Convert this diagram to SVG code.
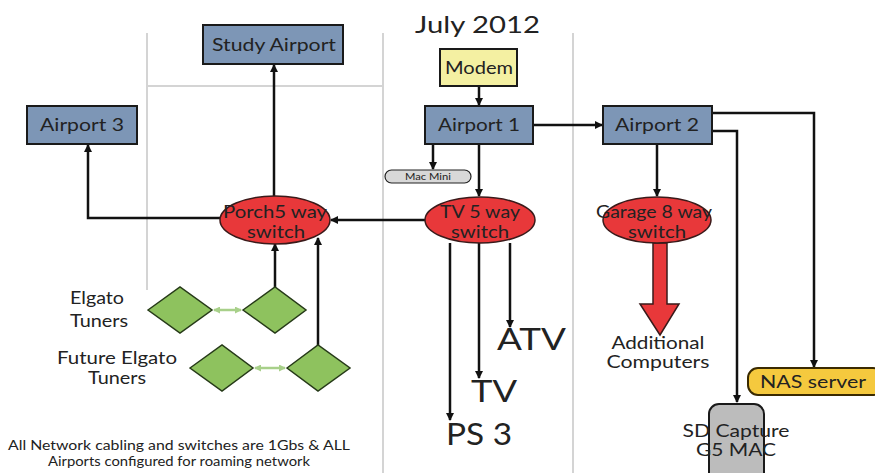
<svg xmlns="http://www.w3.org/2000/svg" width="875" height="473" viewBox="0 0 875 473">
<style>
text{font-family:Lato,"Open Sans","DejaVu Sans",sans-serif;fill:#222}
.ap{fill:#7d96b6;stroke:#1a1a1a;stroke-width:2}
.sw{fill:#e8383a;stroke:#3a1a1a;stroke-width:1.5}
.dm{fill:#8ec25e;stroke:#263a18;stroke-width:1.5}
.c{fill:none;stroke:#111;stroke-width:2.5}
.g{fill:none;stroke:#d4d4d4;stroke-width:2}
.t{font-size:17px;text-anchor:middle}
</style>
<defs>
<marker id="ah" markerWidth="8" markerHeight="8" refX="7" refY="4" orient="auto" markerUnits="userSpaceOnUse"><path d="M0,0 L8,4 L0,8 Z" fill="#111"/></marker>
<marker id="ag" markerWidth="7" markerHeight="7" refX="6" refY="3.5" orient="auto-start-reverse" markerUnits="userSpaceOnUse"><path d="M0,0 L7,3.5 L0,7 Z" fill="#a8d08a"/></marker>
</defs>
<rect width="875" height="473" fill="#fff"/>
<g id="grid">
<line class="g" x1="147" y1="33" x2="147" y2="290"/>
<line class="g" x1="383" y1="33" x2="383" y2="473"/>
<line class="g" x1="573" y1="33" x2="573" y2="473"/>
<line class="g" x1="147" y1="86" x2="383" y2="86"/>
</g>
<text x="415" y="33" font-size="24" textLength="125" lengthAdjust="spacingAndGlyphs">July 2012</text>
<g id="connectors">
<line class="c" x1="479" y1="86" x2="479" y2="105" marker-end="url(#ah)"/>
<line class="c" x1="533" y1="125" x2="602" y2="125" marker-end="url(#ah)"/>
<line class="c" x1="433" y1="144" x2="433" y2="169" marker-end="url(#ah)"/>
<line class="c" x1="479" y1="144" x2="479" y2="196" marker-end="url(#ah)"/>
<line class="c" x1="425" y1="220" x2="331" y2="220" marker-end="url(#ah)"/>
<polyline class="c" points="220,218 88,218 88,145" marker-end="url(#ah)"/>
<line class="c" x1="274" y1="196" x2="274" y2="65" marker-end="url(#ah)"/>
<line class="c" x1="275" y1="287" x2="275" y2="244" marker-end="url(#ah)"/>
<line class="c" x1="318" y1="345" x2="318" y2="238" marker-end="url(#ah)"/>
<line class="c" x1="450" y1="243" x2="450" y2="420" marker-end="url(#ah)"/>
<line class="c" x1="479" y1="243" x2="479" y2="378" marker-end="url(#ah)"/>
<line class="c" x1="510" y1="243" x2="510" y2="327" marker-end="url(#ah)"/>
<line class="c" x1="657" y1="144" x2="657" y2="196" marker-end="url(#ah)"/>
<polyline class="c" points="712,113 814,113 814,367" marker-end="url(#ah)"/>
<polyline class="c" points="712,131 737,131 737,402" marker-end="url(#ah)"/>
<line x1="214" y1="310" x2="241" y2="310" stroke="#a8d08a" stroke-width="2.5" marker-start="url(#ag)" marker-end="url(#ag)"/>
<line x1="255" y1="368" x2="285" y2="368" stroke="#a8d08a" stroke-width="2.5" marker-start="url(#ag)" marker-end="url(#ag)"/>
<path d="M653,243 L667,243 L667,304 L679,304 L660,335 L640,304 L653,304 Z" fill="#e8383a" stroke="#3a1a1a" stroke-width="1.5"/>
</g>
<g id="modem"><rect x="440" y="49" width="77" height="37" fill="#f4f0a2" stroke="#1a1a1a" stroke-width="2"/><text class="t" x="479" y="74" textLength="68" lengthAdjust="spacingAndGlyphs">Modem</text></g>
<g id="airport1"><rect class="ap" x="425" y="106" width="108" height="38"/><text class="t" x="479" y="131" textLength="82" lengthAdjust="spacingAndGlyphs">Airport 1</text></g>
<g id="airport2"><rect class="ap" x="603" y="106" width="109" height="38"/><text class="t" x="657" y="131" textLength="84" lengthAdjust="spacingAndGlyphs">Airport 2</text></g>
<g id="airport3"><rect class="ap" x="27" y="106" width="110" height="38"/><text class="t" x="82" y="131" textLength="84" lengthAdjust="spacingAndGlyphs">Airport 3</text></g>
<g id="study-airport"><rect class="ap" x="203" y="25" width="140" height="39"/><text class="t" x="274" y="51" textLength="124" lengthAdjust="spacingAndGlyphs">Study Airport</text></g>
<g id="mac-mini"><rect x="385" y="170" width="86" height="13" rx="6.5" fill="#d8d8d8" stroke="#222" stroke-width="1.2"/><text x="428" y="180" font-size="9" text-anchor="middle" textLength="46" lengthAdjust="spacingAndGlyphs">Mac Mini</text></g>
<g id="tv-switch"><ellipse class="sw" cx="480" cy="220" rx="55" ry="23"/><text class="t" x="480" y="218" textLength="80" lengthAdjust="spacingAndGlyphs">TV 5 way</text><text class="t" x="480" y="238" textLength="58" lengthAdjust="spacingAndGlyphs">switch</text></g>
<g id="porch-switch"><ellipse class="sw" cx="275" cy="220" rx="55" ry="24"/><text class="t" x="275" y="218" textLength="104" lengthAdjust="spacingAndGlyphs">Porch5 way</text><text class="t" x="276" y="238" textLength="58" lengthAdjust="spacingAndGlyphs">switch</text></g>
<g id="garage-switch"><ellipse class="sw" cx="657" cy="220" rx="54" ry="23"/><text class="t" x="654" y="218" textLength="116" lengthAdjust="spacingAndGlyphs">Garage 8 way</text><text class="t" x="657" y="238" textLength="58" lengthAdjust="spacingAndGlyphs">switch</text></g>
<g id="elgato1"><polygon class="dm" points="148,310 180,287 212,310 180,333"/></g>
<g id="elgato2"><polygon class="dm" points="243,310 275,287 306,310 275,333"/></g>
<g id="future1"><polygon class="dm" points="190,368 222,345 253,368 222,391"/></g>
<g id="future2"><polygon class="dm" points="287,368 318,345 350,368 318,391"/></g>
<g id="labels">
<text class="t" x="97" y="304" textLength="54" lengthAdjust="spacingAndGlyphs">Elgato</text>
<text class="t" x="99" y="327" textLength="58" lengthAdjust="spacingAndGlyphs">Tuners</text>
<text class="t" x="117" y="364" textLength="120" lengthAdjust="spacingAndGlyphs">Future Elgato</text>
<text class="t" x="117" y="384" textLength="58" lengthAdjust="spacingAndGlyphs">Tuners</text>
<text x="179" y="450" font-size="13" text-anchor="middle" textLength="342" lengthAdjust="spacingAndGlyphs">All Network cabling and switches are 1Gbs &amp; ALL</text>
<text x="179" y="466" font-size="13" text-anchor="middle" textLength="262" lengthAdjust="spacingAndGlyphs">Airports configured for roaming network</text>
<text x="497" y="350" font-size="31" textLength="69" lengthAdjust="spacingAndGlyphs">ATV</text>
<text x="471" y="402" font-size="31" textLength="46" lengthAdjust="spacingAndGlyphs">TV</text>
<text x="446" y="445" font-size="31" textLength="66" lengthAdjust="spacingAndGlyphs">PS 3</text>
<text class="t" x="658" y="349" textLength="93" lengthAdjust="spacingAndGlyphs">Additional</text>
<text class="t" x="658" y="368" textLength="103" lengthAdjust="spacingAndGlyphs">Computers</text>
</g>
<g id="nas"><rect x="748" y="368" width="135" height="27" rx="10" fill="#f5c93e" stroke="#3a2a00" stroke-width="2"/><text x="760" y="388" font-size="18" textLength="106" lengthAdjust="spacingAndGlyphs">NAS server</text></g>
<g id="sd-capture"><rect x="709" y="404" width="55" height="80" rx="10" fill="#bcbcbc" stroke="#1a1a1a" stroke-width="2"/><text class="t" x="736" y="437" textLength="107" lengthAdjust="spacingAndGlyphs">SD Capture</text><text class="t" x="736" y="456" textLength="80" lengthAdjust="spacingAndGlyphs">G5 MAC</text></g>
</svg>
